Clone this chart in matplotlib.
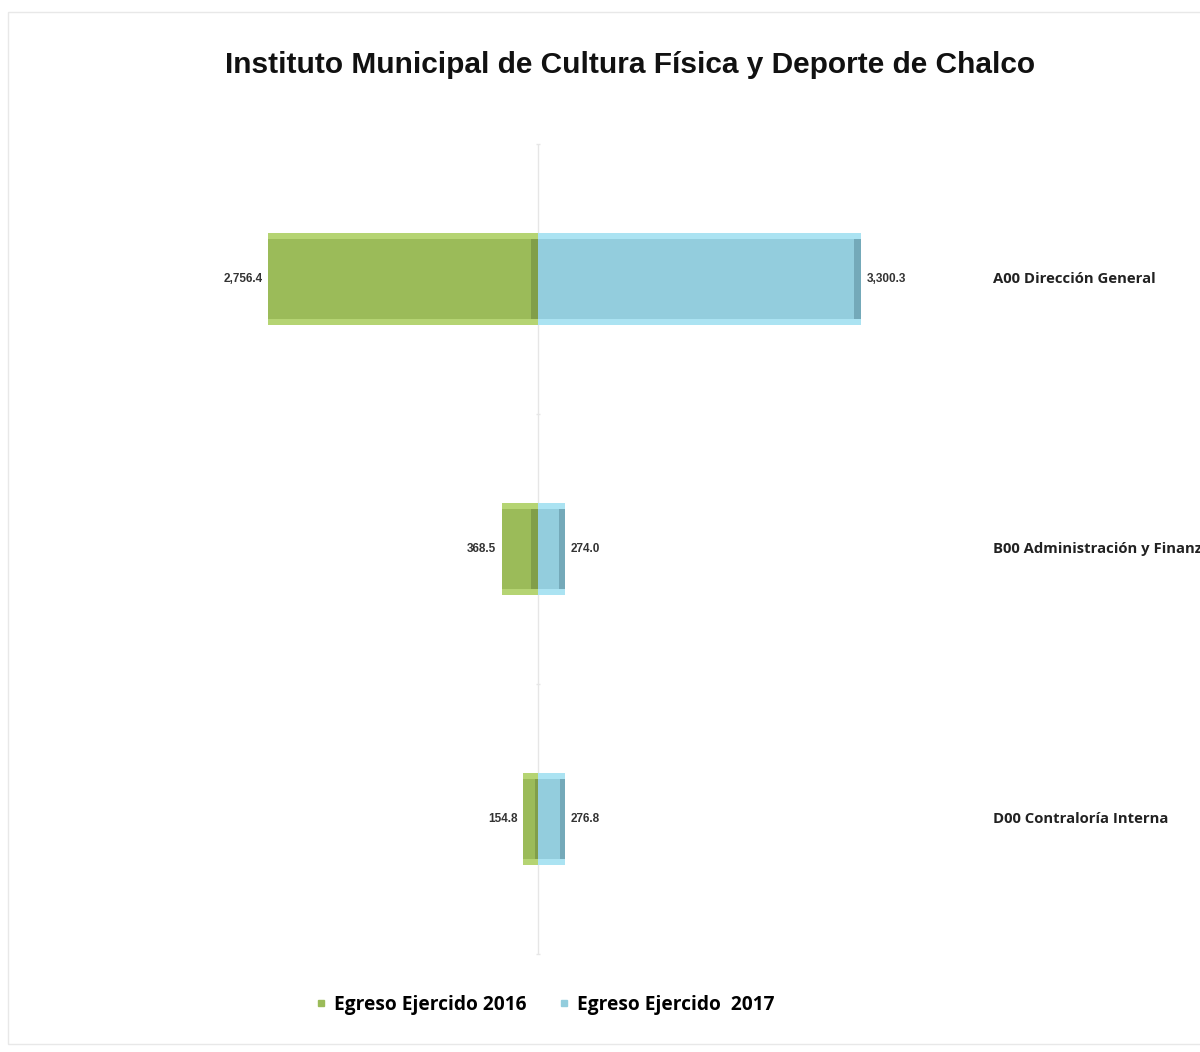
import numpy as np
import matplotlib.pyplot as plt
from matplotlib.patches import Rectangle
from matplotlib.lines import Line2D

categories = ["A00 Dirección General", "B00 Administración y Finanzas", "D00 Contraloría Interna"]
egreso_2016 = [2756.4, 368.5, 154.8]
egreso_2017 = [3300.3, 274.0, 276.8]
series_names = ["Egreso Ejercido 2016", "Egreso Ejercido  2017"]

green, green_dark, green_light = "#9bbb59", "#819e4a", "#b5d473"
blue, blue_dark, blue_light = "#93cddd", "#74a9b9", "#abe3f2"

W, H = 1200, 1052
fig = plt.figure(figsize=(W / 100, H / 100), dpi=100)
ax = fig.add_axes([0, 0, 1, 1])
ax.axis("off")

# pixel mapping: zero line at x=538, 0.098 px per unit; rows 270 px apart, first at y=279
scale = 0.098
ax.set_xlim(-538 / scale, (W - 538) / scale)
ax.set_ylim((H - 279) / 270, -279 / 270)

y = np.arange(len(categories))
h = 0.34
edge = 0.022
left_vals = -np.array(egreso_2016)
right_vals = np.array(egreso_2017)

# center axis with faint ticks
ax.vlines(0, -0.5, len(categories) - 0.5, color="#e6e6e6", lw=1, zorder=1)
ax.hlines(np.arange(len(categories) + 1) - 0.5, -25, 25, color="#e6e6e6", lw=1, zorder=1)

def bevel_bars(vals, base, dark, light):
    ax.barh(y, vals, height=h, color=base, zorder=2)
    ax.barh(y - h / 2 + edge / 2, vals, height=edge, color=light, zorder=3)
    ax.barh(y + h / 2 - edge / 2, vals, height=edge, color=light, zorder=3)
    end_w = np.minimum(75, np.abs(vals) * 0.2) * np.sign(vals)
    # darker strip at the zero side for the left series, at the far end for the right one
    if vals[0] < 0:
        ax.barh(y, end_w, height=h - 2 * edge, color=dark, zorder=3)
    else:
        ax.barh(y, -end_w, left=vals, height=h - 2 * edge, color=dark, zorder=3)

bevel_bars(left_vals, green, green_dark, green_light)
bevel_bars(right_vals, blue, blue_dark, blue_light)

for yi, v in zip(y, egreso_2016):
    ax.annotate(f"{v:,.1f}", (-v, yi), xytext=(-4, 0), textcoords="offset points",
                ha="right", va="center", fontsize=8.5, fontweight="bold",
                family="Liberation Sans", color="#333333")
for yi, v in zip(y, egreso_2017):
    ax.annotate(f"{v:,.1f}", (v, yi), xytext=(4, 0), textcoords="offset points",
                ha="left", va="center", fontsize=8.5, fontweight="bold",
                family="Liberation Sans", color="#333333")

label_x = (993 - 538) / scale
for yi, name in zip(y, categories):
    ax.text(label_x, yi, name, ha="left", va="center", fontsize=10.7,
            fontweight="bold", family="Open Sans", color="#222222")

fig.text(0.525, 1 - 65 / H, "Instituto Municipal de Cultura Física y Deporte de Chalco",
         ha="center", va="center", fontsize=21.5, fontweight="bold",
         family="Liberation Sans", color="#111111")

handles = [Line2D([], [], ls="", marker="s", ms=5, mfc=green, mec=green),
           Line2D([], [], ls="", marker="s", ms=5, mfc=blue, mec=blue)]
fig.legend(handles, series_names, loc="center", bbox_to_anchor=(543 / W, 1 - 1005 / H),
           ncol=2, frameon=False, handletextpad=0.15, handlelength=1.0, columnspacing=1.5,
           prop={"family": "Open Sans", "weight": "bold", "size": 13.8})

fig.patches.append(Rectangle((8 / W, 8 / H), 1.2, 1 - 20 / H, transform=fig.transFigure,
                             fill=False, edgecolor="#e8e8e8", lw=1))

fig.savefig("out.png", dpi=100)
